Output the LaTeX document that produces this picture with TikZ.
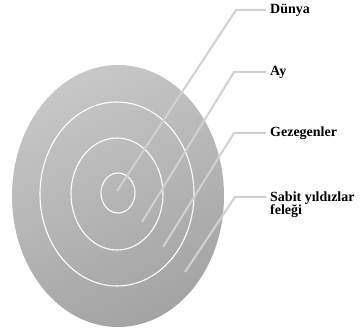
\documentclass[tikz,border=0pt]{standalone}
\usepackage{fontspec}
\setmainfont{Liberation Serif}
\begin{document}
\begin{tikzpicture}[x=1pt, y=-1pt,
    ring/.style={draw=white, line width=1.1pt},
    leader/.style={draw=black!18, line width=2pt},
    lbl/.style={anchor=west, inner sep=4pt, align=left,
      font=\bfseries\fontsize{14}{13}\selectfont}]
  \useasboundingbox (0,0) rectangle (360,332);
  % disk and orbits
  \shade[top color=black!22, bottom color=black!36, shading angle=25]
    (118,196) ellipse [x radius=106pt, y radius=131pt];
  \draw[ring] (117,194) ellipse [x radius=77pt, y radius=92pt];
  \draw[ring] (117,194) ellipse [x radius=46pt, y radius=56pt];
  \draw[ring] (118,193) ellipse [x radius=17pt, y radius=20pt];
  % labels
  \node (dunya) [lbl] at (266,10) {Dünya};
  \node (ay) [lbl] at (266,72) {Ay};
  \node (gezegen) [lbl] at (266,133) {Gezegenler};
  \node (sabit) [lbl, anchor=north west] at (266,188) {Sabit yıldızlar\\feleği};
  % leaders
  \coordinate (p1) at (117,191);
  \coordinate (k1) at (236,10);
  \coordinate (p2) at (142,222);
  \coordinate (k2) at (234,72);
  \coordinate (p3) at (163,247);
  \coordinate (k3) at (234,133);
  \coordinate (p4) at (185,272);
  \coordinate (k4) at (235,197);
  \draw[leader] (p1) -- (k1) -- (dunya.west);
  \draw[leader] (p2) -- (k2) -- (ay.west);
  \draw[leader] (p3) -- (k3) -- (gezegen.west);
  \draw[leader] (p4) -- (k4) -- (k4 -| sabit.west);
\end{tikzpicture}
\end{document}
